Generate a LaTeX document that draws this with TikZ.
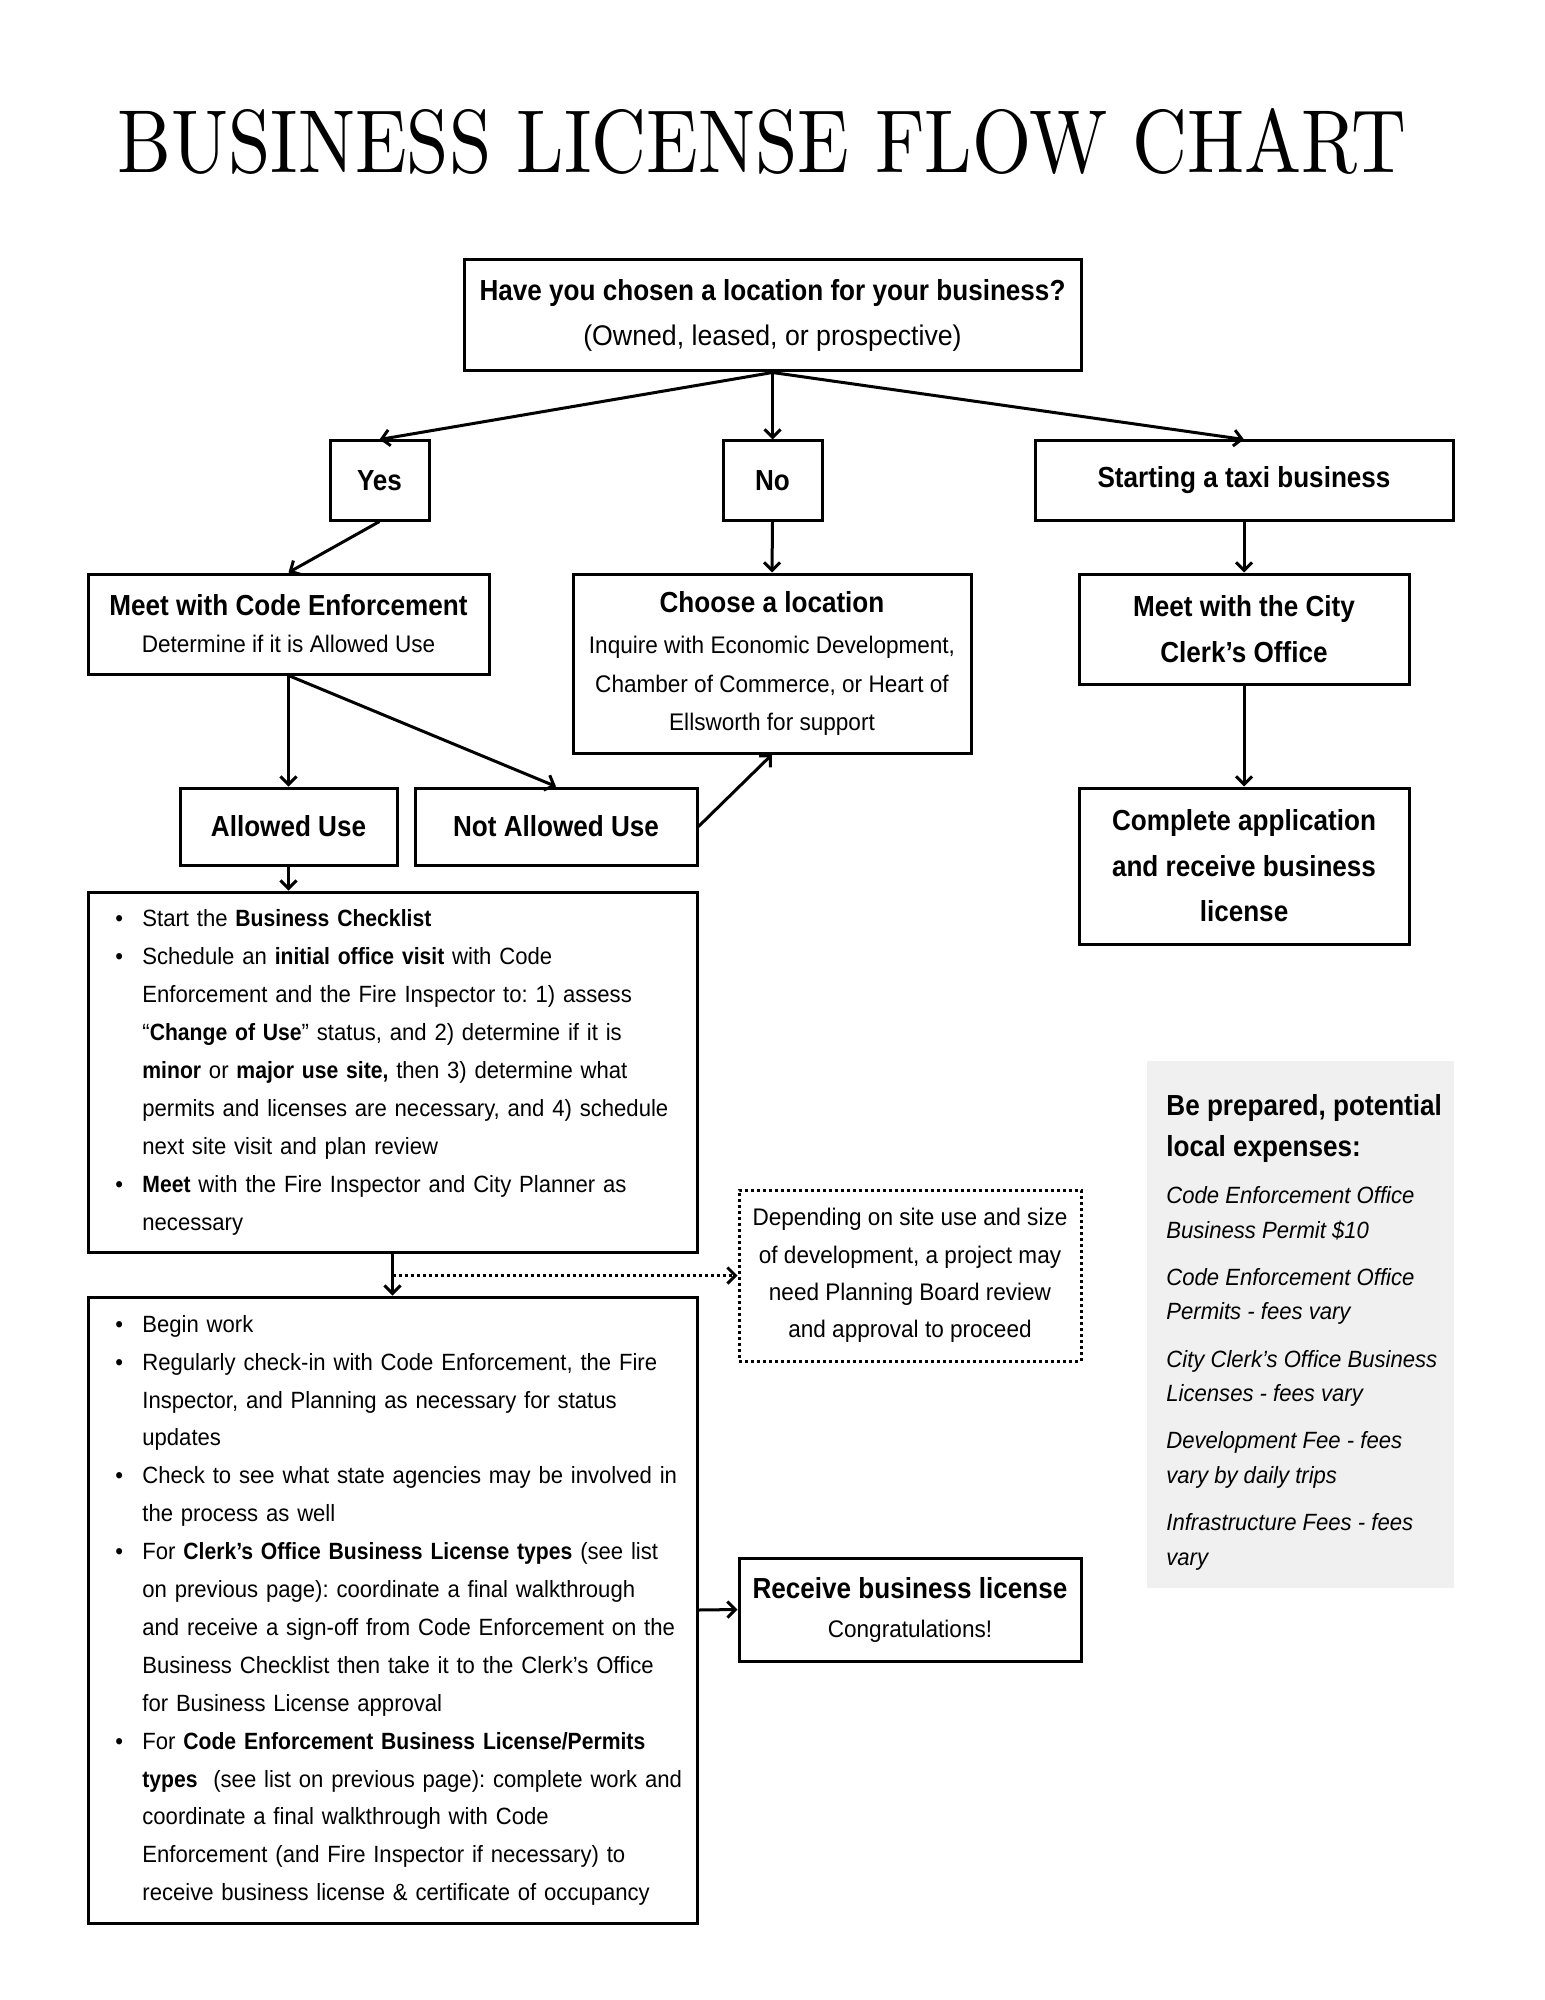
\documentclass[tikz,border=0pt]{standalone}
\usepackage{fontspec}
\usepackage{graphicx}
\setmainfont{Liberation Sans}[FakeStretch=0.94,BoldFeatures={FakeStretch=0.90}]
\setsansfont{Liberation Sans}[FakeStretch=0.94,BoldFeatures={FakeStretch=0.90}]
\newfontfamily\titlefont{lmroman10-regular.otf}
\usetikzlibrary{arrows.meta}
\definecolor{panel}{HTML}{F0F0F0}
\frenchspacing
\newcommand{\hdf}{\fontsize{14.5}{22}\selectfont\bfseries}
\newcommand{\itf}{\fontsize{11.75}{17}\selectfont\itshape}
\newcommand{\bul}{\par\noindent\hangindent=13.5pt\hangafter=1\makebox[13.5pt][l]{\textbullet}}
\begin{document}
\begin{tikzpicture}[x=0.5pt,y=-0.5pt,font=\sffamily,
  box/.style={draw,line width=1.5pt,inner sep=0pt,align=center},
  dotbox/.style={draw,line width=1.5pt,inner sep=0pt,align=center,dash pattern=on 1.5pt off 1.5pt},
  arr/.style={line width=1.5pt,-{Straight Barb[length=4pt,width=8pt]}},
  dotarr/.style={line width=1.5pt,dash pattern=on 1.5pt off 1.5pt,-{Straight Barb[length=4pt,width=8pt]}},
  listtext/.style={anchor=west,inner sep=0pt,text width=300pt,align=left,font=\fontsize{11.75}{18.95}\selectfont},
  ptext/.style={anchor=base west,inner sep=0pt}]
\fill[white] (0,0) rectangle (1545,2000);
\useasboundingbox (0,0) rectangle (1545,2000);

\node[anchor=north west,inner sep=0pt] (title) at (117,108)
  {\resizebox{644.5pt}{32pt}{\titlefont BUSINESS LICENSE FLOW CHART}};

\node[box,minimum width=308.5pt,minimum height=55.5pt,font=\fontsize{12}{22.5}\selectfont] (top) at (772.5,315.5)
  {{\hdf Have you chosen a location for your business?}\\{\fontsize{14.2}{22.5}\selectfont (Owned, leased, or prospective)}};

\node[box,minimum width=49.5pt,minimum height=39.5pt,font=\hdf] (yes) at (379.5,480.5) {Yes};
\node[box,minimum width=49.5pt,minimum height=39.5pt,font=\hdf] (no) at (772.5,480.5) {No};
\node[box,minimum width=209pt,minimum height=39.5pt,font=\hdf] (taxi) at (1244,480.5) {Starting a taxi business};

\node[box,minimum width=200.5pt,minimum height=50pt,font=\fontsize{12}{18.5}\selectfont] (ce) at (288.5,624)
  {{\hdf Meet with Code Enforcement}\\Determine if it is Allowed Use};
\node[box,minimum width=199pt,minimum height=89.5pt,font=\fontsize{12}{19.1}\selectfont] (choose) at (772,663.5)
  {{\hdf Choose a location}\\[1.5pt]Inquire with Economic Development,\\Chamber of Commerce, or Heart of\\Ellsworth for support};
\node[box,minimum width=165pt,minimum height=55pt,font=\fontsize{14.5}{23}\selectfont\bfseries] (clerk) at (1244,629)
  {Meet with the City\\Clerk’s Office};
\node[box,minimum width=165pt,minimum height=78pt,font=\fontsize{14.5}{22.75}\selectfont\bfseries] (complete) at (1244,866)
  {Complete application\\and receive business\\license};

\node[box,minimum width=108.5pt,minimum height=38.5pt,font=\hdf] (allowed) at (288.5,826.5) {Allowed Use};
\node[box,minimum width=141pt,minimum height=38.5pt,font=\hdf] (notallowed) at (556,826.5) {Not Allowed Use};

\node[box,minimum width=304.5pt,minimum height=180pt] (list1) at (392.5,1072) {};
\node[listtext] (list1text) at (115,1062) {%
\bul Start the \textbf{Business Checklist}
\bul Schedule an \textbf{initial office visit} with Code\newline Enforcement and the Fire Inspector to: 1) assess\newline “\textbf{Change of Use}” status, and 2) determine if it is\newline \textbf{minor} or \textbf{major use site,} then 3) determine what\newline permits and licenses are necessary, and 4) schedule\newline next site visit and plan review
\bul \textbf{Meet} with the Fire Inspector and City Planner as\newline necessary\par};

\node[box,minimum width=304.5pt,minimum height=313pt] (list2) at (392.5,1610) {};
\node[listtext] (list2text) at (115,1600) {%
\bul Begin work
\bul Regularly check-in with Code Enforcement, the Fire\newline Inspector, and Planning as necessary for status\newline updates
\bul Check to see what state agencies may be involved in\newline the process as well
\bul For \textbf{Clerk’s Office Business License types} (see list\newline on previous page): coordinate a final walkthrough\newline and receive a sign-off from Code Enforcement on the\newline Business Checklist then take it to the Clerk’s Office\newline for Business License approval
\bul For \textbf{Code Enforcement Business License/Permits}\newline \textbf{types}\ \ (see list on previous page): complete work and\newline coordinate a final walkthrough with Code\newline Enforcement (and Fire Inspector if necessary) to\newline receive business license \& certificate of occupancy\par};

\node[dotbox,minimum width=171pt,minimum height=85.5pt,font=\fontsize{12}{18.65}\selectfont] (dotted) at (910,1275.5)
  {Depending on site use and size\\of development, a project may\\need Planning Board review\\and approval to proceed};
\node[box,minimum width=171pt,minimum height=51.5pt,font=\fontsize{12}{19.5}\selectfont] (receive) at (910,1609.5)
  {{\hdf Receive business license}\\Congratulations!};

\node[fill=panel,minimum width=153.5pt,minimum height=263.5pt,inner sep=0pt] (panel) at (1300.5,1324.5) {};
\node[ptext,font=\hdf] (ph1) at (1166,1115) {Be prepared, potential};
\node[ptext,font=\hdf] (ph2) at (1166,1156) {local expenses:};
\node[ptext,font=\itf] (pa1) at (1166,1203.5) {Code Enforcement Office};
\node[ptext,font=\itf] (pa2) at (1166,1238.5) {Business Permit \$10};
\node[ptext,font=\itf] (pb1) at (1166,1285.5) {Code Enforcement Office};
\node[ptext,font=\itf] (pb2) at (1166,1319.5) {Permits - fees vary};
\node[ptext,font=\itf] (pc1) at (1166,1367.5) {City Clerk’s Office Business};
\node[ptext,font=\itf] (pc2) at (1166,1401.5) {Licenses - fees vary};
\node[ptext,font=\itf] (pd1) at (1166,1448.5) {Development Fee - fees};
\node[ptext,font=\itf] (pd2) at (1166,1483.5) {vary by daily trips};
\node[ptext,font=\itf] (pe1) at (1166,1530.5) {Infrastructure Fees - fees};
\node[ptext,font=\itf] (pe2) at (1166,1565.5) {vary};

\draw[arr] (top.south) -- (yes.north);
\draw[arr] (top.south) -- (no.north);
\draw[arr] (top.south) -- (taxi.north);
\draw[arr] (yes.south) -- (ce.north);
\draw[arr] (no.south) -- (choose.north);
\draw[arr] (taxi.south) -- (clerk.north);
\draw[arr] (clerk.south) -- (complete.north);
\draw[arr] (ce.south) -- (allowed.north);
\draw[arr] (ce.south) -- (notallowed.north);
\draw[arr] (notallowed.east) -- (choose.south);
\draw[arr] (allowed.south) -- (allowed.south |- list1.north);
\draw[arr] (list1.south) -- (list2.north);
\coordinate (split) at (list1.south |- dotted.west);
\draw[dotarr] (split) -- (dotted.west);
\draw[arr] (list2.east) -- (receive.west);
\end{tikzpicture}
\end{document}
